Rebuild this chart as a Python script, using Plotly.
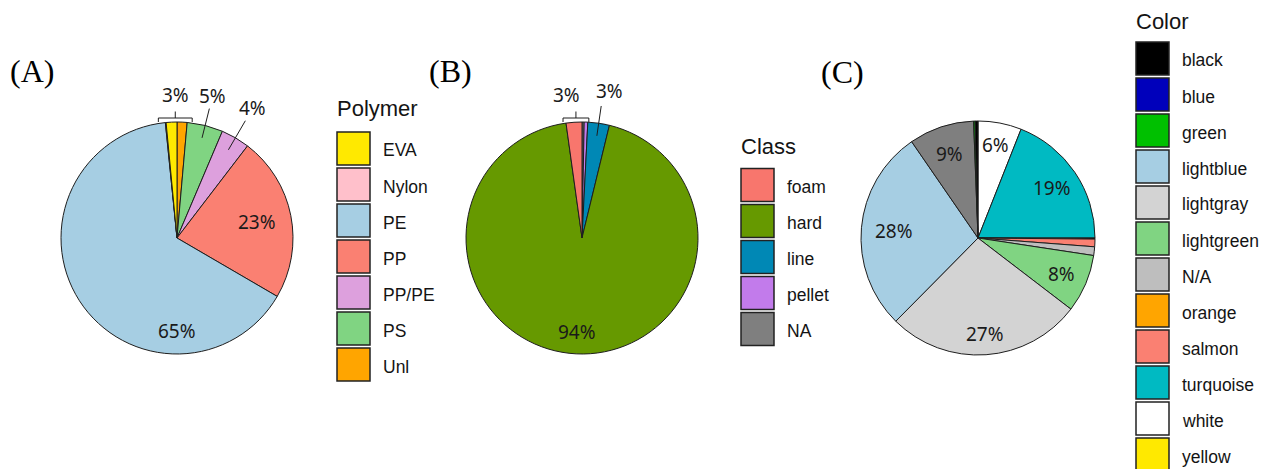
import math
import plotly.graph_objects as go

W, H = 1273, 469

# ---- Panel A: polymer type (slices listed clockwise from 12 o'clock) ----
polymer_slices = ["Unl", "PS", "PP/PE", "PP", "PE", "Nylon", "EVA"]
polymer_values = [1.4, 5, 4, 23, 65, 0.1, 1.5]
polymer_legend = ["EVA", "Nylon", "PE", "PP", "PP/PE", "PS", "Unl"]
polymer_colors = ["#FFE900", "#FFC0CB", "#A6CEE3", "#FA8072", "#DDA0DD", "#80D482", "#FFA500"]

# ---- Panel B: particle class ----
class_slices = ["NA", "pellet", "line", "hard", "foam"]
class_values = [0.3, 0.5, 3, 94, 2.2]
class_legend = ["foam", "hard", "line", "pellet", "NA"]
class_colors = ["#F8766D", "#669900", "#0088B5", "#C27BEB", "#7F7F7F"]

# ---- Panel C: particle colour (a colour may appear in more than one slice) ----
colour_slices = ["white", "turquoise", "black", "salmon", "N/A", "lightgreen",
                 "lightgray", "lightblue", "NA", "green", "black"]
colour_values = [6, 19, 0.15, 1.05, 1.2, 8, 27, 28, 9, 0.2, 0.4]
colour_legend = ["black", "blue", "green", "lightblue", "lightgray", "lightgreen",
                 "N/A", "orange", "salmon", "turquoise", "white", "yellow"]
colour_colors = ["#000000", "#0000BB", "#00C000", "#A6CEE3", "#D3D3D3", "#80D482",
                 "#BEBEBE", "#FFA500", "#FA8072", "#00BAC2", "#FFFFFF", "#FFE900"]
NA_FILL = "#7F7F7F"

panel_tags = ["(A)", "(B)", "(C)"]
legend_titles = ["Polymer", "Class", "Color"]

# ---- layout constants (pixels) ----
pies = [dict(cx=177, cy=238, r=116), dict(cx=582, cy=238, r=116), dict(cx=978, cy=238, r=117)]
tag_pos = [(31.5, 71), (450.5, 70.5), (842.5, 72)]
legend_pos = [dict(x=337, title_y=109, top=132), dict(x=741, title_y=146, top=168.5),
              dict(x=1136, title_y=21, top=42)]
BOX, PITCH = 33, 36

# label placement: slice indices, radial position (fraction of radius), optional extras
label_specs = [
    [dict(idx=[4], r=0.80, angle=180), dict(idx=[3], r=0.70),
     dict(idx=[2], r=1.30, leader=(0.88, 1.17)), dict(idx=[1], r=1.26, leader=(0.89, 1.15)),
     dict(idx=[5, 6, 0], bracket=True, pad=(7, 5), dx=0)],
    [dict(idx=[3], r=0.81), dict(idx=[2], r=1.28, leader=(0.89, 1.15), dx=6),
     dict(idx=[4, 0, 1], bracket=True, pad=(3, 1), dx=-9)],
    [dict(idx=[0], r=0.81), dict(idx=[1], r=0.76), dict(idx=[5], r=0.78),
     dict(idx=[6], r=0.82), dict(idx=[7], r=0.72), dict(idx=[8], r=0.76)],
]

LABEL_FONT = dict(family="Noto Sans", size=19, color="#1a1a1a")
LEGEND_FONT = dict(family="Liberation Sans", size=17.5, color="#141414")
TITLE_FONT = dict(family="Liberation Sans", size=22, color="#141414")
EDGE = "#1e1e1e"


def px(x):
    return x / W


def py(y):
    return 1 - y / H


def polar(p, deg, frac):
    a = math.radians(deg)
    return p["cx"] + frac * p["r"] * math.sin(a), p["cy"] - frac * p["r"] * math.cos(a)


fig = go.Figure()
shapes, annotations = [], []

panels = [
    (polymer_slices, polymer_values, dict(zip(polymer_legend, polymer_colors)), polymer_legend, polymer_colors),
    (class_slices, class_values, dict(zip(class_legend, class_colors)), class_legend, class_colors),
    (colour_slices, colour_values, dict(zip(colour_legend, colour_colors)), colour_legend, colour_colors),
]

for k, (slices, values, cmap, leg_names, leg_colors) in enumerate(panels):
    p = pies[k]
    fills = [cmap.get(s, NA_FILL) for s in slices]
    fig.add_trace(go.Pie(
        labels=[f"{i + 1}. {s}" for i, s in enumerate(slices)],
        values=values,
        sort=False, direction="clockwise", rotation=0,
        marker=dict(colors=fills, line=dict(color=EDGE, width=1)),
        textinfo="none", hoverinfo="label+percent", showlegend=False,
        domain=dict(x=[px(p["cx"] - p["r"]), px(p["cx"] + p["r"])],
                    y=[py(p["cy"] + p["r"]), py(p["cy"] - p["r"])]),
    ))

    total = sum(values)
    bounds, acc = [], 0.0
    for v in values:
        bounds.append((acc / total * 360, (acc + v) / total * 360))
        acc += v

    for spec in label_specs[k]:
        share = sum(values[i] for i in spec["idx"]) / total * 100
        text = f"{share:.0f}%"
        if spec.get("bracket"):
            xs = []
            for i in spec["idx"]:
                for ang in bounds[i]:
                    a = ang - 360 if ang > 180 else ang
                    xs.append(p["cx"] + p["r"] * math.sin(math.radians(a)))
            x0, x1 = min(xs) - spec["pad"][0], max(xs) + spec["pad"][1]
            ytop = p["cy"] - p["r"]
            ybar = ytop - 4
            xc = (x0 + x1) / 2
            shapes.append(dict(
                type="path", xref="paper", yref="paper",
                path=(f"M {px(x0)},{py(ytop)} L {px(x0)},{py(ybar)} L {px(x1)},{py(ybar)} "
                      f"L {px(x1)},{py(ytop)} M {px(xc)},{py(ybar)} L {px(xc)},{py(ybar - 6.5)}"),
                line=dict(color=EDGE, width=1)))
            lx, ly = xc + spec.get("dx", 0), ybar - 23
        else:
            i = spec["idx"][0]
            mid = spec.get("angle", sum(bounds[i]) / 2)
            lx, ly = polar(p, mid, spec["r"])
            lx += spec.get("dx", 0)
            if "leader" in spec:
                (ax, ay), (bx, by) = polar(p, mid, spec["leader"][0]), polar(p, mid, spec["leader"][1])
                shapes.append(dict(type="line", xref="paper", yref="paper",
                                   x0=px(ax), y0=py(ay), x1=px(bx), y1=py(by),
                                   line=dict(color=EDGE, width=1)))
        annotations.append(dict(x=px(lx), y=py(ly), xref="paper", yref="paper", text=text,
                                showarrow=False, xanchor="center", yanchor="middle", font=LABEL_FONT))

    # panel tag
    tx, ty = tag_pos[k]
    annotations.append(dict(x=px(tx), y=py(ty), xref="paper", yref="paper", text=panel_tags[k],
                            showarrow=False, xanchor="center", yanchor="middle",
                            font=dict(family="Liberation Serif", size=32, color="black")))

    # legend
    lg = legend_pos[k]
    annotations.append(dict(x=px(lg["x"] - 2), y=py(lg["title_y"]), xref="paper", yref="paper",
                            text=legend_titles[k], showarrow=False, xanchor="left", yanchor="middle",
                            font=TITLE_FONT))
    for j, (name, col) in enumerate(zip(leg_names, leg_colors)):
        top = lg["top"] + j * PITCH
        shapes.append(dict(type="rect", xref="paper", yref="paper",
                           x0=px(lg["x"]), x1=px(lg["x"] + BOX), y0=py(top + BOX), y1=py(top),
                           fillcolor=col, line=dict(color="#222222", width=1.5)))
        annotations.append(dict(x=px(lg["x"] + BOX + 11), y=py(top + BOX / 2 + 2), xref="paper",
                                yref="paper", text=name, showarrow=False, xanchor="left",
                                yanchor="middle", font=LEGEND_FONT))

fig.update_layout(
    width=W, height=H, autosize=False,
    margin=dict(l=0, r=0, t=0, b=0),
    paper_bgcolor="white", plot_bgcolor="white",
    shapes=shapes, annotations=annotations,
)

fig.write_html("out.html")
